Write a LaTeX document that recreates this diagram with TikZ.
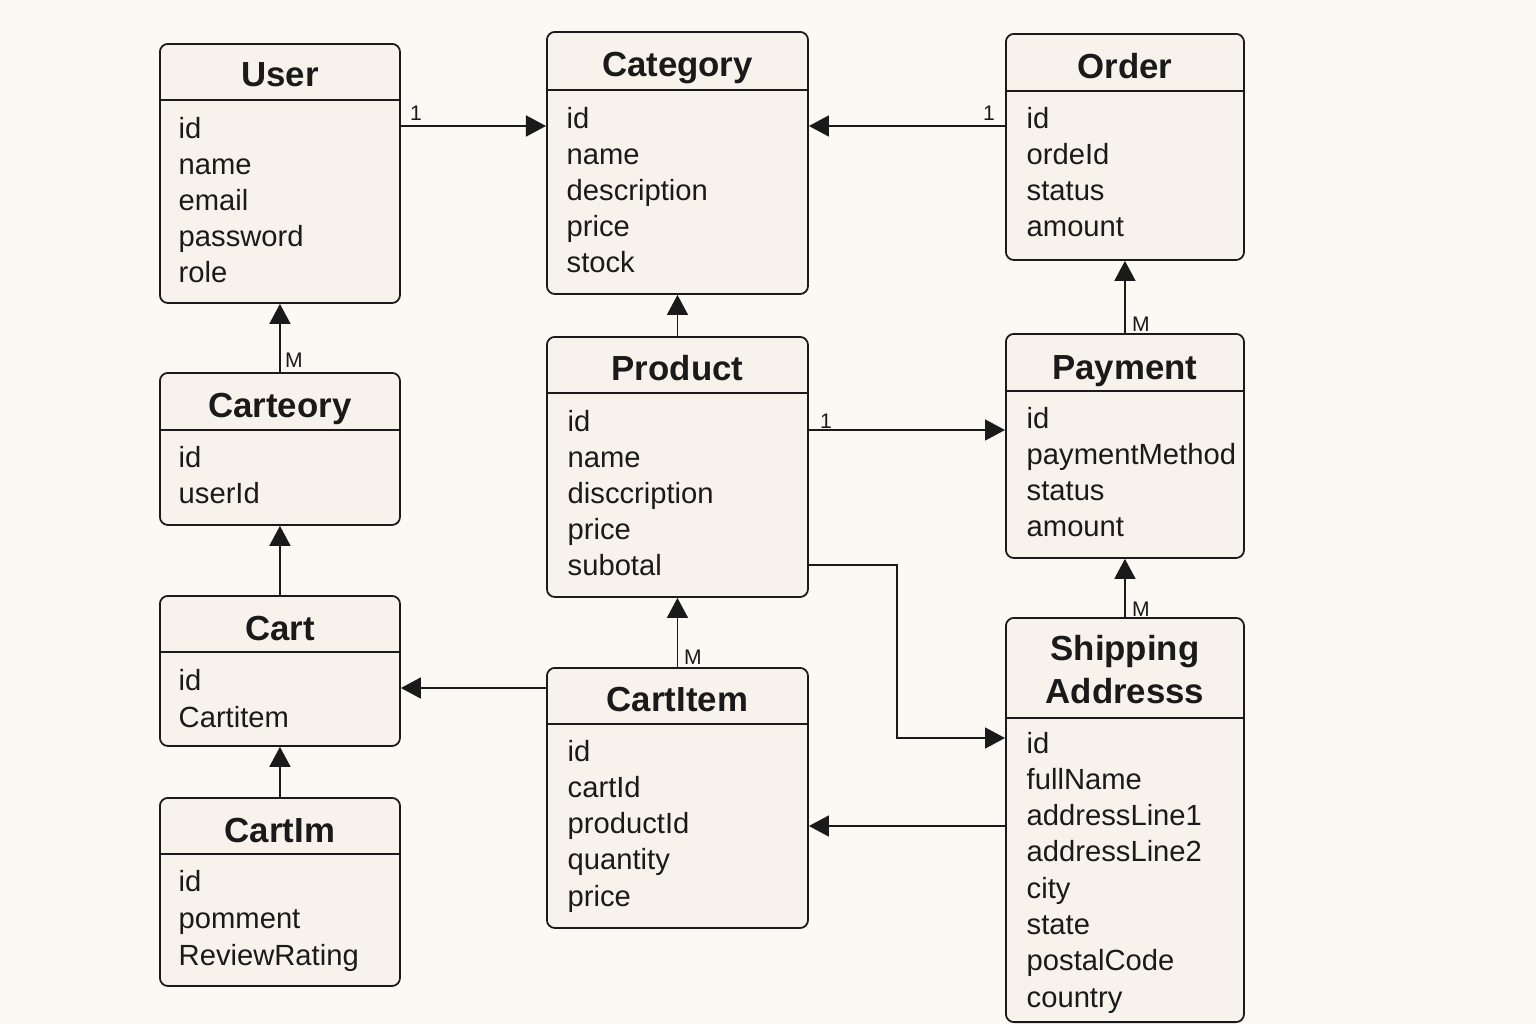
\documentclass[tikz,border=0pt]{standalone}
\usepackage{fontspec}
\setmainfont{Liberation Sans}
\usetikzlibrary{arrows.meta}
\definecolor{paper}{HTML}{FCF8F3}
\definecolor{boxfill}{HTML}{F8F2EC}
\definecolor{ink}{HTML}{1A1A1A}

\begin{document}
\begin{tikzpicture}[x=0.01cm, y=-0.01cm]

\tikzstyle{classbox}=[draw=ink, fill=boxfill, line width=0.5pt, rounded corners=2.3pt, anchor=north west, inner sep=0pt]
\tikzstyle{divider}=[draw=ink, line width=0.5pt]
\tikzstyle{title}=[font=\bfseries\fontsize{9.9}{12}\selectfont, anchor=base, inner sep=0pt, text=ink]
\tikzstyle{attr}=[font=\fontsize{8.3}{10}\selectfont, anchor=base west, inner sep=0pt, text=ink]
\tikzstyle{mult}=[font=\fontsize{6}{7}\selectfont, inner sep=0pt, text=ink]
\tikzstyle{edge}=[-{Triangle[length=0.2cm, width=0.21cm]}, draw=ink, line width=0.45pt]

\fill[paper] (0,0) rectangle (1536,1024);
\useasboundingbox (0,0) rectangle (1536,1024);

% left column
\node[classbox, minimum width=2.4cm, minimum height=2.59cm] (user) at (159,43) {};
\node[title] (user-t) at (user.north |- 0,87) {User};
\draw[divider] (user.west |- 0,100) -- (user.east |- 0,100);
\foreach \a [count=\i] in {id,name,email,password,role}
  \node[attr] (user-\i) at (178,{102+36*\i}) {\a};

\node[classbox, minimum width=2.4cm, minimum height=1.52cm] (carteory) at (159,372) {};
\node[title] (carteory-t) at (carteory.north |- 0,417) {Carteory};
\draw[divider] (carteory.west |- 0,430) -- (carteory.east |- 0,430);
\foreach \a [count=\i] in {id,userId}
  \node[attr] (carteory-\i) at (178,{431+36*\i}) {\a};

\node[classbox, minimum width=2.4cm, minimum height=1.5cm] (cart) at (159,595) {};
\node[title] (cart-t) at (cart.north |- 0,640) {Cart};
\draw[divider] (cart.west |- 0,652) -- (cart.east |- 0,652);
\foreach \a [count=\i] in {id,Cartitem}
  \node[attr] (cart-\i) at (178,{653+37*\i}) {\a};

\node[classbox, minimum width=2.4cm, minimum height=1.88cm] (cartim) at (159,797) {};
\node[title] (cartim-t) at (cartim.north |- 0,842) {CartIm};
\draw[divider] (cartim.west |- 0,854) -- (cartim.east |- 0,854);
\foreach \a [count=\i] in {id,pomment,ReviewRating}
  \node[attr] (cartim-\i) at (178,{854+37*\i}) {\a};

% middle column
\node[classbox, minimum width=2.61cm, minimum height=2.62cm] (category) at (546,31) {};
\node[title] (category-t) at (category.north |- 0,77) {Category};
\draw[divider] (category.west |- 0,90) -- (category.east |- 0,90);
\foreach \a [count=\i] in {id,name,description,price,stock}
  \node[attr] (category-\i) at (566,{92+36*\i}) {\a};

\node[classbox, minimum width=2.61cm, minimum height=2.6cm] (product) at (546,336) {};
\node[title] (product-t) at (product.north |- 0,380) {Product};
\draw[divider] (product.west |- 0,393) -- (product.east |- 0,393);
\foreach \a [count=\i] in {id,name,disccription,price,subotal}
  \node[attr] (product-\i) at (567,{395+36*\i}) {\a};

\node[classbox, minimum width=2.61cm, minimum height=2.6cm] (cartitem) at (546,667) {};
\node[title] (cartitem-t) at (cartitem.north |- 0,711) {CartItem};
\draw[divider] (cartitem.west |- 0,724) -- (cartitem.east |- 0,724);
\foreach \a [count=\i] in {id,cartId,productId,quantity,price}
  \node[attr] (cartitem-\i) at (567,{724.7+36.3*\i}) {\a};

% right column
\node[classbox, minimum width=2.38cm, minimum height=2.26cm] (order) at (1005,33) {};
\node[title] (order-t) at (order.north |- 0,78) {Order};
\draw[divider] (order.west |- 0,91) -- (order.east |- 0,91);
\foreach \a [count=\i] in {id,ordeId,status,amount}
  \node[attr] (order-\i) at (1026,{92+36*\i}) {\a};

\node[classbox, minimum width=2.38cm, minimum height=2.24cm] (payment) at (1005,333) {};
\node[title] (payment-t) at (payment.north |- 0,379) {Payment};
\draw[divider] (payment.west |- 0,391) -- (payment.east |- 0,391);
\foreach \a [count=\i] in {id,paymentMethod,status,amount}
  \node[attr] (payment-\i) at (1026,{392+36*\i}) {\a};

\node[classbox, minimum width=2.38cm, minimum height=4.04cm] (shipping) at (1005,617) {};
\node[title] (shipping-t1) at (shipping.north |- 0,660) {Shipping};
\node[title] (shipping-t2) at (shipping.north |- 0,703) {Addresss};
\draw[divider] (shipping.west |- 0,718) -- (shipping.east |- 0,718);
\foreach \a [count=\i] in {id,fullName,addressLine1,addressLine2,city,state,postalCode,country}
  \node[attr] (shipping-\i) at (1026,{716.7+36.3*\i}) {\a};

% connectors
\draw[edge] (user.east |- 0,126) to (category.west |- 0,126);
\draw[edge] (order.west |- 0,126) to (category.east |- 0,126);
\draw[edge] (carteory.north) to (user.south);
\draw[edge] (cart.north) to (carteory.south);
\draw[edge] (cartim.north) to (cart.south);
\draw[edge] (product.north) to (category.south);
\draw[edge] (cartitem.north) to (product.south);
\draw[edge] (cartitem.west |- 0,688) to (cart.east |- 0,688);
\draw[edge] (payment.north) to (order.south);
\draw[edge] (shipping.north) to (payment.south);
\draw[edge] (product.east |- 0,430) to (payment.west |- 0,430);
\draw[edge] (product.east |- 0,565) -- (897,565) |- (shipping.west |- 0,738);
\draw[edge] (shipping.west |- 0,826) to (cartitem.east |- 0,826);

% multiplicities
\node[mult] (one-user) at (416,113) {1};
\node[mult] (one-order) at (989,113) {1};
\node[mult] (one-product) at (826,421) {1};
\node[mult] (many-carteory) at (294,360) {M};
\node[mult] (many-payment) at (1141,324) {M};
\node[mult] (many-cartitem) at (693,657) {M};
\node[mult] (many-shipping) at (1141,609) {M};

\end{tikzpicture}
\end{document}
